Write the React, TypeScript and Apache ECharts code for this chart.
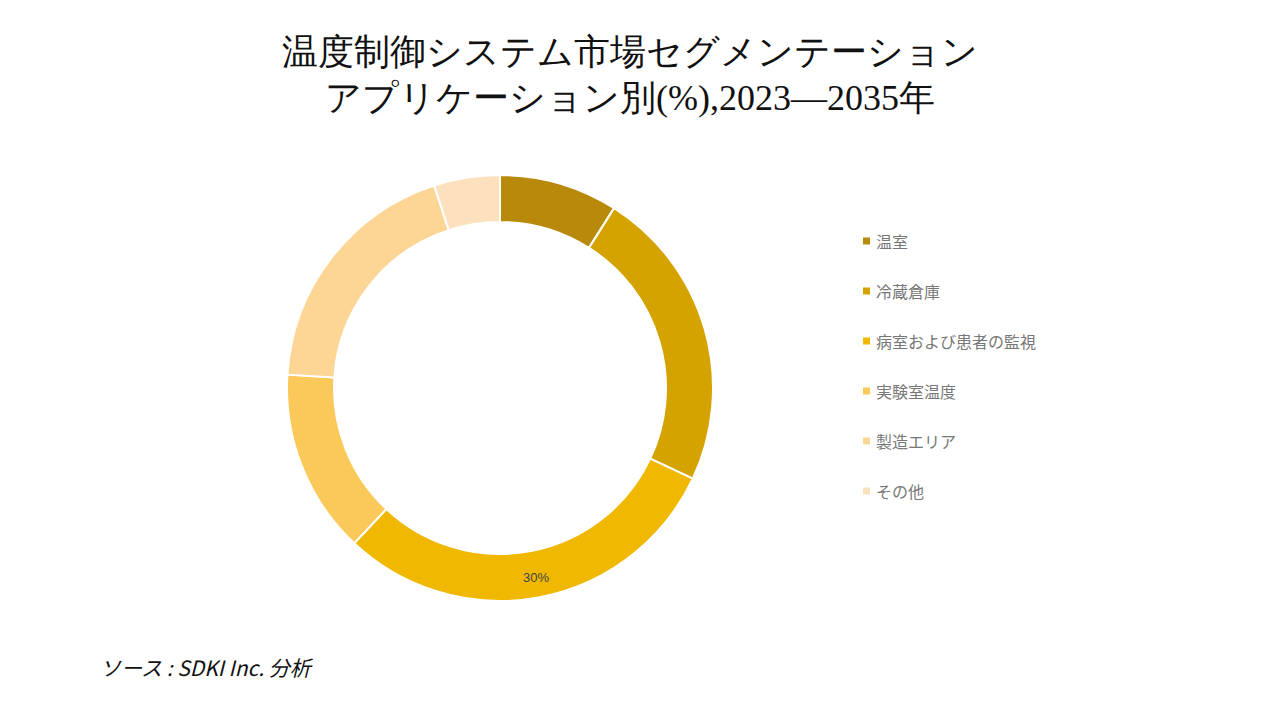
import React, { useEffect, useRef } from "react";
import * as echarts from "echarts";

const categories = ["温室", "冷蔵倉庫", "病室および患者の監視", "実験室温度", "製造エリア", "その他"];
const values = [9, 23, 30, 14, 19, 5];
const colors = ["#B8890A", "#D4A300", "#F0B800", "#FBC95A", "#FDD696", "#FDE1BF"];
const labeledIndex = 2;

export default function App() {
  const ref = useRef<HTMLDivElement>(null);
  useEffect(() => {
    const chart = echarts.init(ref.current!, null, { renderer: "svg" });
    chart.setOption({
      animation: false,
      title: {
        text: "温度制御システム市場セグメンテーション\nアプリケーション別(%),2023—2035年",
        left: 625,
        textAlign: "center",
        top: 24,
        textStyle: {
          fontFamily: "serif",
          fontSize: 36,
          fontWeight: "normal",
          color: "#111",
          lineHeight: 46,
        },
      },
      legend: {
        orient: "vertical",
        left: 856,
        top: 228,
        itemGap: 34,
        itemWidth: 9,
        itemHeight: 9,
        icon: "rect",
        textStyle: { fontSize: 16, color: "#777", fontFamily: "'Noto Sans CJK JP', sans-serif" },
        data: categories,
      },
      graphic: [
        {
          type: "text",
          left: 100,
          top: 656,
          style: {
            text: "ソース : SDKI Inc. 分析",
            fontSize: 21,
            fontStyle: "italic",
            fill: "#111",
            fontFamily: "'Noto Sans CJK JP', sans-serif",
          },
        },
      ],
      series: [
        {
          type: "pie",
          center: [500, 388],
          radius: [166, 213],
          startAngle: 90,
          clockwise: true,
          itemStyle: { borderColor: "#fff", borderWidth: 2 },
          label: { show: false },
          labelLine: { show: false },
          data: categories.map((name, i) => ({
            name,
            value: values[i],
            itemStyle: { color: colors[i] },
            label:
              i === labeledIndex
                ? {
                    show: true,
                    position: "inside",
                    formatter: "{c}%",
                    color: "#444",
                    fontSize: 13,
                  }
                : { show: false },
          })),
        },
      ],
    });
    return () => chart.dispose();
  }, []);
  return <div ref={ref} style={{ width: 1280, height: 720, position: "absolute", left: 0, top: 0 }} />;
}
